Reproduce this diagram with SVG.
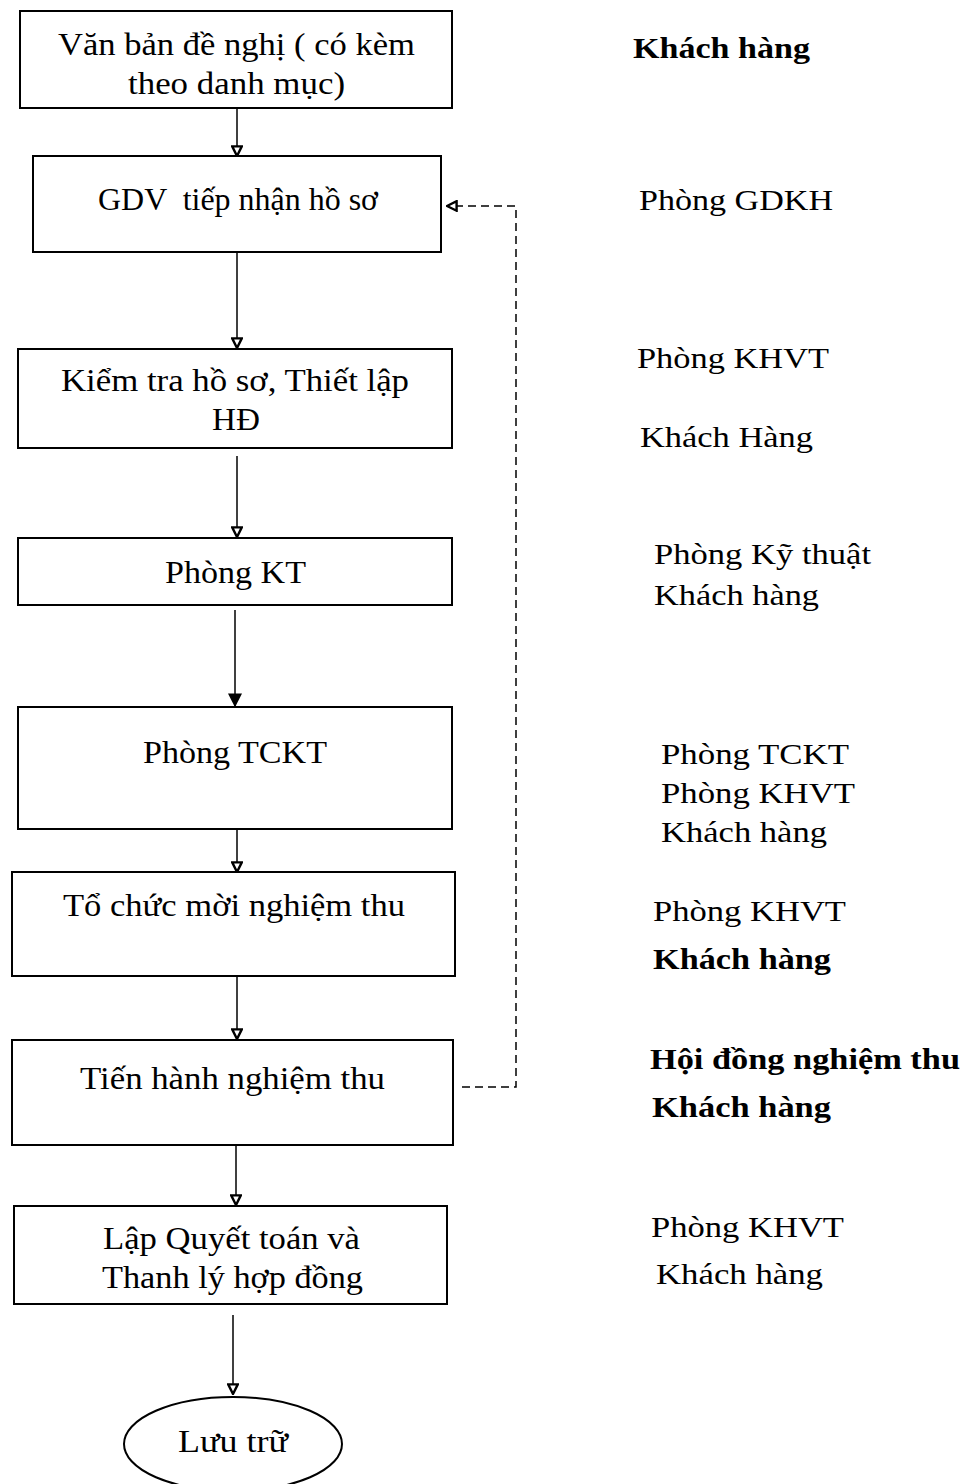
<svg xmlns="http://www.w3.org/2000/svg" width="971" height="1484" viewBox="0 0 971 1484">
<style>
  .box { fill: #fff; stroke: #000; stroke-width: 2; }
  .t { font-family: "Liberation Serif", "Times New Roman", serif; font-size: 31px; fill: #000; }
  .r { font-family: "Liberation Serif", "Times New Roman", serif; font-size: 30px; fill: #000; }
  .b { font-weight: bold; }
  .line { stroke: #000; stroke-width: 1.5; fill: none; }
  .dash { stroke: #000; stroke-width: 1.5; fill: none; stroke-dasharray: 8 5; }
</style>
<defs>
  <marker id="open" viewBox="0 0 10 10" refX="9" refY="5" markerWidth="12" markerHeight="12" markerUnits="userSpaceOnUse" orient="auto">
    <path d="M1,1 L9,5 L1,9 Z" fill="#fff" stroke="#000" stroke-width="2"/>
  </marker>
  <marker id="solid" viewBox="0 0 10 10" refX="9" refY="5" markerWidth="14" markerHeight="14" markerUnits="userSpaceOnUse" orient="auto">
    <path d="M0,0 L10,5 L0,10 Z" fill="#000"/>
  </marker>
</defs>
<rect width="971" height="1484" fill="#fff"/>

<g id="connectors">
  <line class="line" x1="237" y1="108" x2="237" y2="156" marker-end="url(#open)"/>
  <line class="line" x1="237" y1="252" x2="237" y2="348" marker-end="url(#open)"/>
  <line class="line" x1="237" y1="456" x2="237" y2="537" marker-end="url(#open)"/>
  <line class="line" x1="235" y1="610" x2="235" y2="706" marker-end="url(#solid)"/>
  <line class="line" x1="237" y1="829" x2="237" y2="872" marker-end="url(#open)"/>
  <line class="line" x1="237" y1="976" x2="237" y2="1039" marker-end="url(#open)"/>
  <line class="line" x1="236" y1="1146" x2="236" y2="1205" marker-end="url(#open)"/>
  <line class="line" x1="233" y1="1315" x2="233" y2="1394" marker-end="url(#open)"/>
  <polyline class="dash" points="462,1087 516,1087 516,206 447,206" marker-end="url(#open)"/>
</g>

<g id="n1">
  <rect class="box" x="20" y="11" width="432" height="97"/>
  <text class="t" x="58" y="55" textLength="357" lengthAdjust="spacingAndGlyphs">Văn bản đề nghị ( có kèm</text>
  <text class="t" x="128" y="94" textLength="217" lengthAdjust="spacingAndGlyphs">theo danh mục)</text>
</g>
<g id="n2">
  <rect class="box" x="33" y="156" width="408" height="96"/>
  <text class="t" x="98" y="210" textLength="280" lengthAdjust="spacingAndGlyphs" xml:space="preserve">GDV  tiếp nhận hồ sơ</text>
</g>
<g id="n3">
  <rect class="box" x="18" y="349" width="434" height="99"/>
  <text class="t" x="61" y="391" textLength="348" lengthAdjust="spacingAndGlyphs">Kiểm tra hồ sơ, Thiết lập</text>
  <text class="t" x="212" y="430" textLength="48" lengthAdjust="spacingAndGlyphs">HĐ</text>
</g>
<g id="n4">
  <rect class="box" x="18" y="538" width="434" height="67"/>
  <text class="t" x="165" y="583" textLength="141" lengthAdjust="spacingAndGlyphs">Phòng KT</text>
</g>
<g id="n5">
  <rect class="box" x="18" y="707" width="434" height="122"/>
  <text class="t" x="143" y="763" textLength="184" lengthAdjust="spacingAndGlyphs">Phòng TCKT</text>
</g>
<g id="n6">
  <rect class="box" x="12" y="872" width="443" height="104"/>
  <text class="t" x="63" y="916" textLength="342" lengthAdjust="spacingAndGlyphs">Tổ chức mời nghiệm thu</text>
</g>
<g id="n7">
  <rect class="box" x="12" y="1040" width="441" height="105"/>
  <text class="t" x="80" y="1089" textLength="305" lengthAdjust="spacingAndGlyphs">Tiến hành nghiệm thu</text>
</g>
<g id="n8">
  <rect class="box" x="14" y="1206" width="433" height="98"/>
  <text class="t" x="103" y="1249" textLength="257" lengthAdjust="spacingAndGlyphs">Lập Quyết toán và</text>
  <text class="t" x="102" y="1288" textLength="261" lengthAdjust="spacingAndGlyphs">Thanh lý hợp đồng</text>
</g>
<g id="n9">
  <ellipse class="box" cx="233" cy="1444" rx="109" ry="47"/>
  <text class="t" x="178" y="1452" textLength="110" lengthAdjust="spacingAndGlyphs">Lưu trữ</text>
</g>

<g id="labels">
  <text class="r b" x="633" y="58" textLength="177" lengthAdjust="spacingAndGlyphs">Khách hàng</text>
  <text class="r" x="639" y="210" textLength="194" lengthAdjust="spacingAndGlyphs">Phòng GDKH</text>
  <text class="r" x="637" y="368" textLength="192" lengthAdjust="spacingAndGlyphs">Phòng KHVT</text>
  <text class="r" x="640" y="447" textLength="173" lengthAdjust="spacingAndGlyphs">Khách Hàng</text>
  <text class="r" x="654" y="564" textLength="217" lengthAdjust="spacingAndGlyphs">Phòng Kỹ thuật</text>
  <text class="r" x="654" y="605" textLength="165" lengthAdjust="spacingAndGlyphs">Khách hàng</text>
  <text class="r" x="661" y="764" textLength="188" lengthAdjust="spacingAndGlyphs">Phòng TCKT</text>
  <text class="r" x="661" y="803" textLength="194" lengthAdjust="spacingAndGlyphs">Phòng KHVT</text>
  <text class="r" x="661" y="842" textLength="166" lengthAdjust="spacingAndGlyphs">Khách hàng</text>
  <text class="r" x="653" y="921" textLength="193" lengthAdjust="spacingAndGlyphs">Phòng KHVT</text>
  <text class="r b" x="653" y="969" textLength="178" lengthAdjust="spacingAndGlyphs">Khách hàng</text>
  <text class="r b" x="650" y="1069" textLength="310" lengthAdjust="spacingAndGlyphs">Hội đồng nghiệm thu</text>
  <text class="r b" x="652" y="1117" textLength="179" lengthAdjust="spacingAndGlyphs">Khách hàng</text>
  <text class="r" x="651" y="1237" textLength="193" lengthAdjust="spacingAndGlyphs">Phòng KHVT</text>
  <text class="r" x="656" y="1284" textLength="167" lengthAdjust="spacingAndGlyphs">Khách hàng</text>
</g>
</svg>
